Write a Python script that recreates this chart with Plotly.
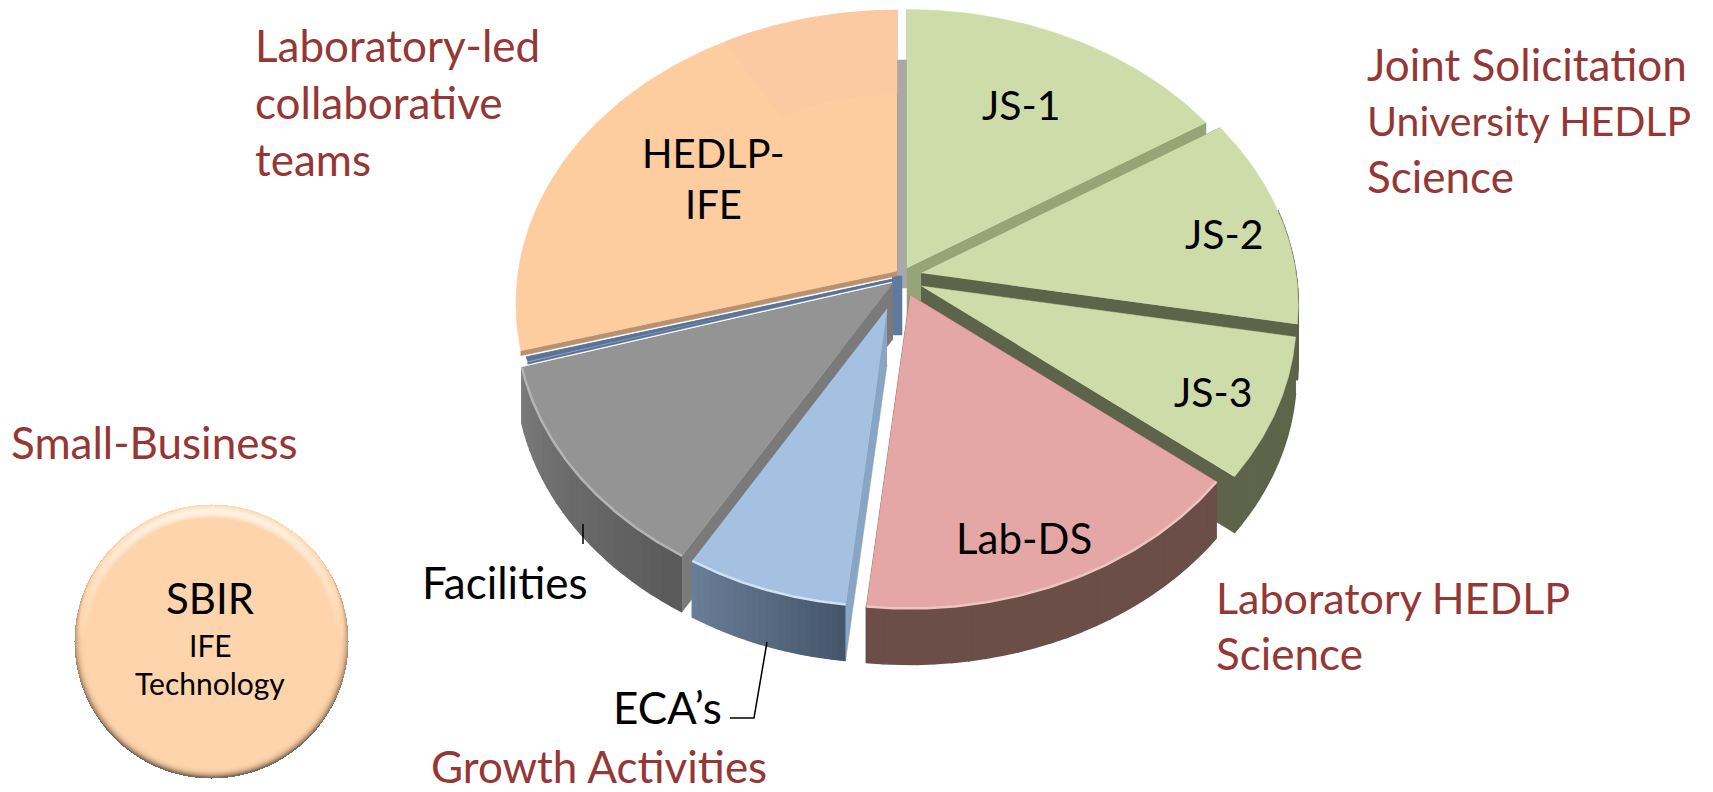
import numpy as np
import plotly.graph_objects as go

# ---- data ----
slice_names = ["JS-1", "JS-2", "JS-3", "Lab-DS", "ECA's", "Facilities", "SBIR", "HEDLP-IFE"]
slice_shares = [16.0, 11.8, 7.9, 16.0, 6.8, 11.9, 0.3, 29.3]

# ---- slice styling and geometry ----
top_colors = ["#cedca9", "#cedca9", "#cedca9", "#e4a7a6", "#a5c1e2", "#949494", "#5b7397", "#fdcda0"]
edge_colors = ["#95a578", "#5e6449", "#5e6449", "#6b4e47", "#88a5c3", "#7a7a7a", "#5b7397", "#b8926f"]
wall_left = ["#5e6449", "#5e6449", "#5e6449", "#6b4e47", "#6a8099", "#7b7b7b", "#5b7397", "#a8845f"]
wall_right = ["#5e6449", "#5e6449", "#5e6449", "#6b4e47", "#45566b", "#5a5a5a", "#5b7397", "#c49a6f"]
rim_light = [None, None, None, "#efc4c2", "#cfe2f6", "#b4b4b4", None, None]
apex_x = [907, 921, 921, 910, 887, 893, 893, 897]
apex_y = [268, 273, 286, 295, 309, 283, 279, 271]
radius_scale = [1.0, 1.0, 0.995, 0.975, 0.93, 1.0, 0.985, 1.01]
cut_depth = [56, 56, 56, 56, 56, 56, 2, 5]
draw_order = [7, 6, 5, 0, 1, 2, 4, 3]
RX, RY, PERSP, DEPTH = 375.0, 287.0, 0.11, 56.0

# ---- text ----
red_lines = ["Laboratory-led", "collaborative", "teams", "Joint Solicitation", "University HEDLP",
             "Science", "Small-Business", "Laboratory HEDLP", "Science", "Growth Activities"]
red_x = [253, 253, 253, 1365, 1365, 1365, 9, 1214, 1214, 429]
red_y = [45, 102, 159, 64, 120, 176, 442, 597, 653, 766]
red_size = [44, 44, 44, 44, 41, 44, 44, 43, 44, 44]
black_lines = ["JS-1", "JS-2", "JS-3", "HEDLP-", "IFE", "Lab-DS", "Facilities", "ECA’s", "SBIR"]
black_x = [1021, 1224, 1213, 713, 713, 1024, 505, 667, 210]
black_y = [104, 233, 391, 153, 204, 538, 582, 707, 598]
black_size = [41, 41, 41, 40, 40, 42, 44, 44, 42]
small_lines = ["IFE", "Technology"]
small_x = [210, 210]
small_y = [645, 683]
small_size = [30, 30]
FONT = "Lato"


def project(ax, ay, theta, frac=1.0):
    u, v = frac * np.sin(theta), -frac * np.cos(theta)
    w = 1 - PERSP * v
    return ax + RX * u / w, ay + RY * v / w


def mix(c1, c2, t):
    a = [int(c1[i:i + 2], 16) for i in (1, 3, 5)]
    b = [int(c2[i:i + 2], 16) for i in (1, 3, 5)]
    return "rgb(%d,%d,%d)" % tuple(round(a[k] + (b[k] - a[k]) * t) for k in range(3))


fig = go.Figure()


def poly(xs, ys, color, width=0.5):
    fig.add_trace(go.Scatter(x=list(xs), y=list(ys), mode="lines", fill="toself", fillcolor=color,
                             line=dict(color=color, width=width),
                             hoverinfo="skip", showlegend=False))


edges = np.radians(np.concatenate([[0], np.cumsum(slice_shares)]) * 3.6)

# grey back wall in the gap behind the two top slices
gx0, gy0 = project(apex_x[7], apex_y[7], 2 * np.pi, 0.8)
poly([gx0, gx0 + 10, gx0 + 10, gx0], [gy0, gy0, apex_y[0] + 20, apex_y[0] + 20], "#a8a8a8")
# blue inner strip under the centre of the pie
bx, by = apex_x[7], apex_y[7]
poly([bx - 5, bx + 5, bx + 5, bx - 5], [by + 5, by + 5, by + 64, by + 64], "#5f7a9e")

for i in draw_order:
    ax, ay = apex_x[i], apex_y[i]
    t0, t1 = edges[i], edges[i + 1]
    f = radius_scale[i]
    ox, oy = project(ax, ay, np.linspace(t0, t1, 90), f)

    # radial walls at both cut faces
    for t in (t1, t0):
        ex, ey = project(ax, ay, t, f)
        poly([ax, ex, ex, ax], [ay, ey, ey + cut_depth[i], ay + cut_depth[i]], edge_colors[i])

    # outer rim wall, in narrow shaded strips, only where it faces the viewer
    n = 24
    st = np.linspace(t0, t1, n + 1)
    for k in range(n):
        if not (np.pi / 2 - 0.2 < st[k + 1] and st[k] < 3 * np.pi / 2 + 0.2):
            continue
        if cut_depth[i] < DEPTH:
            continue
        sx, sy = project(ax, ay, np.linspace(st[k], st[k + 1], 5), f)
        col = mix(wall_left[i], wall_right[i], 1 - k / n)
        poly(list(sx) + list(sx[::-1]), list(sy) + list(sy[::-1] + DEPTH), col, width=1.5)

    # top face
    poly([ax] + list(ox), [ay] + list(oy), top_colors[i])

    # soft highlight where the top meets the rim
    if rim_light[i]:
        fig.add_trace(go.Scatter(x=ox, y=oy, mode="lines", line=dict(color=rim_light[i], width=2.5),
                                 hoverinfo="skip", showlegend=False))

# faint darker patch on the large slice
a = np.linspace(np.radians(330), np.radians(360), 30)
p1 = project(apex_x[7], apex_y[7], a, 1.01)
p2 = project(apex_x[7], apex_y[7], a[::-1], 0.66)
poly(list(p1[0]) + list(p2[0]), list(p1[1]) + list(p2[1]), "#fbcaa2")

# SBIR button, shaded by a light from above
cx, cy, r = 211, 641, 137
gx = np.arange(cx - r - 1, cx + r + 2)
gy = np.arange(cy - r - 1, cy + r + 2)
X, Y = np.meshgrid(gx - cx, gy - cy)
R = np.hypot(X, Y)
rim = np.clip((R - (r - 14)) / 14, 0, 1)
light = -Y / np.maximum(R, 1)
Z = 0.5 + 0.5 * np.sin(rim * np.pi) * np.clip(light, 0, 1) * 0.9 - 0.4 * rim ** 4 * np.clip(0.8 - light, 0, 1.8)
Z = np.where(R <= r, np.clip(Z, 0, 1), np.nan)
fig.add_trace(go.Heatmap(x=gx, y=gy, z=Z, zmin=0, zmax=1, showscale=False, hoverinfo="skip",
                         colorscale=[[0, "#7d6a58"], [0.3, "#c9a27f"], [0.5, "#fdd4ab"], [1, "#fff6ea"]]))

# leader lines
fig.add_trace(go.Scatter(x=[583, 583], y=[524, 544], mode="lines", line=dict(color="#000", width=1.5),
                         hoverinfo="skip", showlegend=False))
fig.add_trace(go.Scatter(x=[767, 754, 730], y=[642, 718, 718], mode="lines", line=dict(color="#000", width=1.5),
                         hoverinfo="skip", showlegend=False))

for s, x, y, z in zip(red_lines, red_x, red_y, red_size):
    fig.add_annotation(x=x, y=y, text=s, showarrow=False, xanchor="left", yanchor="middle",
                       font=dict(family=FONT, size=z, color="#953735"))
for s, x, y, z in zip(black_lines, black_x, black_y, black_size):
    fig.add_annotation(x=x, y=y, text=s, showarrow=False, xanchor="center", yanchor="middle",
                       font=dict(family=FONT, size=z, color="#000"))
for s, x, y, z in zip(small_lines, small_x, small_y, small_size):
    fig.add_annotation(x=x, y=y, text=s, showarrow=False, xanchor="center", yanchor="middle",
                       font=dict(family=FONT, size=z, color="#000"))

fig.update_layout(width=1713, height=792, margin=dict(l=0, r=0, t=0, b=0),
                  paper_bgcolor="white", plot_bgcolor="white", showlegend=False,
                  xaxis=dict(range=[0, 1713], visible=False, fixedrange=True),
                  yaxis=dict(range=[792, 0], visible=False, fixedrange=True))
fig.write_html("out.html", config={"displayModeBar": False},
               post_script="document.body.style.margin='0';document.body.style.overflow='hidden';")
